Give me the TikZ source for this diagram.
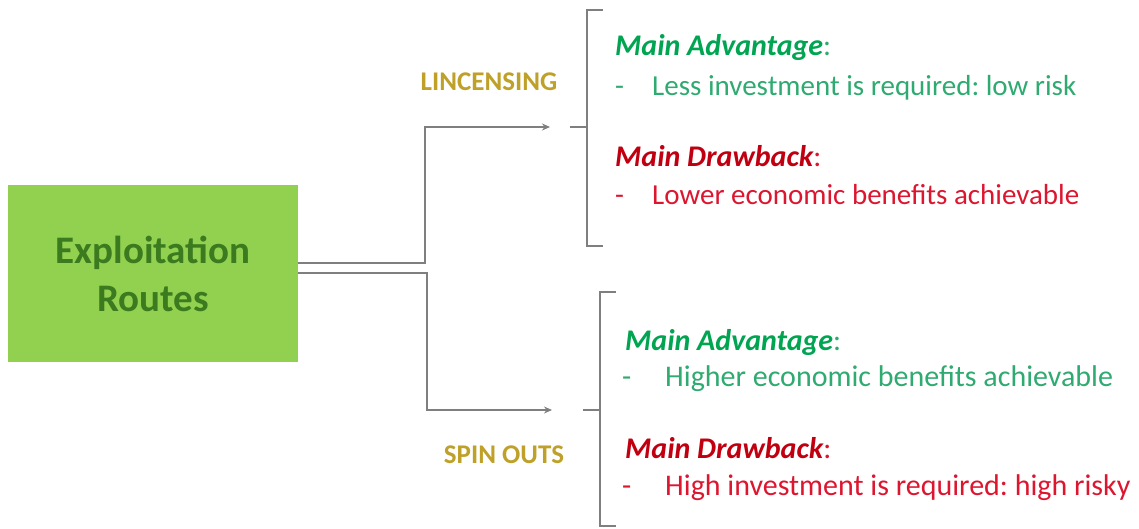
\documentclass[tikz,border=0pt]{standalone}
\usepackage{fontspec}
\setmainfont{Carlito}
\usetikzlibrary{arrows.meta}
\definecolor{boxgreen}{HTML}{92D050}
\definecolor{boxtext}{HTML}{3B7A1E}
\definecolor{routegold}{HTML}{BFA12A}
\definecolor{advhead}{HTML}{00A451}
\definecolor{advtext}{HTML}{2FAA70}
\definecolor{drwhead}{HTML}{C00010}
\definecolor{drwtext}{HTML}{DD1630}
\definecolor{wire}{HTML}{7F7F7F}
\tikzset{
  routebox/.style={fill=boxgreen, minimum width=290pt, minimum height=177pt, inner sep=0pt,
    text=boxtext, align=center, font=\fontsize{39}{48}\selectfont\bfseries},
  routelabel/.style={text=routegold, font=\fontsize{27}{30}\selectfont\bfseries, inner sep=0pt},
  headline/.style={anchor=base west, inner sep=0pt, font=\fontsize{30}{34}\selectfont},
  itemline/.style={anchor=base west, inner sep=0pt, font=\fontsize{29}{34}\selectfont},
  itemlinebig/.style={itemline, font=\fontsize{30}{34}\selectfont},
  wireline/.style={draw=wire, line width=1.8pt},
  arrowline/.style={wireline, -{Stealth[length=8pt,width=7pt]}},
}
\newcommand{\dashitem}[2]{\makebox[#1][l]{-}#2}
\begin{document}
\frenchspacing
\begin{tikzpicture}[x=1pt, y=-1pt]
\useasboundingbox (0,0) rectangle (1139,529);

% central box
\node[routebox] (box) at (153,273.5) {Exploitation\\Routes};

% route labels
\node[routelabel] (lic) at (489,82) {LINCENSING};
\node[routelabel] (spin) at (504,455) {SPIN OUTS};

% arrow ends
\coordinate (licend) at (550,127);
\coordinate (spinend) at (552,410);

% connectors from the box
\draw[arrowline] ([yshift=10.5pt]box.east) -| (425,127) -- (licend);
\draw[arrowline] ([yshift=0.5pt]box.east) -| (427,410) -- (spinend);

% brackets
\coordinate (b1tick) at (570,127);
\coordinate (b1mid) at (587,127);
\coordinate (b1top) at (587,10);
\coordinate (b1bot) at (587,246);
\draw[wireline] (b1tick) -- (b1mid);
\draw[wireline] ([xshift=16pt]b1top) -- (b1top) -- (b1bot) -- ([xshift=16pt]b1bot);

\coordinate (b2tick) at (583,410);
\coordinate (b2mid) at (600,410);
\coordinate (b2top) at (600,292);
\coordinate (b2bot) at (600,526);
\draw[wireline] (b2tick) -- (b2mid);
\draw[wireline] ([xshift=16pt]b2top) -- (b2top) -- (b2bot) -- ([xshift=16pt]b2bot);

% licensing notes
\node[headline] (la) at (615,56) {\textcolor{advhead}{\bfseries\itshape Main Advantage}\textcolor{advtext}{:}};
\node[itemline, text=advtext] (lai) at (615,96) {\dashitem{37pt}{Less investment is required: low risk}};
\node[headline] (ld) at (615,167) {\textcolor{drwhead}{\bfseries\itshape Main Drawback}\textcolor{drwtext}{:}};
\node[itemline, text=drwtext] (ldi) at (615,205) {\dashitem{37pt}{Lower economic benefits achievable}};

% spin-out notes
\node[headline] (sa) at (625,350) {\textcolor{advhead}{\bfseries\itshape Main Advantage}\textcolor{advtext}{:}};
\node[itemlinebig, text=advtext] (sai) at (622,386) {\dashitem{43pt}{Higher economic benefits achievable}};
\node[headline] (sd) at (625,458) {\textcolor{drwhead}{\bfseries\itshape Main Drawback}\textcolor{drwtext}{:}};
\node[itemlinebig, text=drwtext] (sdi) at (622,495) {\dashitem{43pt}{High investment is required: high risky}};
\end{tikzpicture}
\end{document}
